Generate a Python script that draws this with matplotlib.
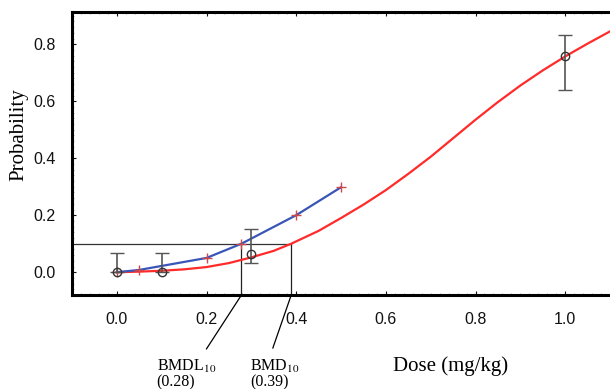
import matplotlib.pyplot as plt
import numpy as np

plt.rcParams['font.family'] = ['Liberation Sans', 'DejaVu Sans']
plt.rcParams['mathtext.fontset'] = 'stix'

# observed data with error bars
obs_dose = [0.0, 0.1, 0.3, 1.0]
obs_p = [0.0, 0.0, 0.064, 0.757]
err_lo = [0.0, 0.0, 0.030, 0.119]
err_hi = [0.069, 0.069, 0.089, 0.076]

# fitted model (red)
fit_dose = [0, 0.05, 0.1, 0.15, 0.2, 0.25, 0.3, 0.35, 0.389, 0.45, 0.5, 0.55,
            0.6, 0.65, 0.7, 0.75, 0.8, 0.85, 0.9, 0.95, 1.0, 1.05, 1.1]
fit_p = [0, 0.002, 0.005, 0.010, 0.018, 0.032, 0.052, 0.075, 0.1, 0.145, 0.19,
         0.237, 0.288, 0.345, 0.405, 0.47, 0.535, 0.597, 0.655, 0.708, 0.757,
         0.802, 0.845]

# lower bound curve (blue) with markers
bl_dose = [0.0, 0.05, 0.2, 0.278, 0.4, 0.5]
bl_p = [0.0, 0.008, 0.05, 0.1, 0.2, 0.298]

bmr = 0.1
bmdl = 0.278
bmd = 0.389

fig = plt.figure(figsize=(6.1, 3.89), dpi=100)
ax = fig.add_axes([72/610, 1-295/389, 1-72/610, 283/389])
ax.set_xlim(-0.1, 1.093)
ax.set_ylim(-0.08, 0.913)

ax.plot(fit_dose, fit_p, color='#ff2a2a', lw=1.6, zorder=3)
ax.plot(bl_dose, bl_p, color='#3a55b8', lw=1.6, zorder=4)
ax.plot(bl_dose, bl_p, ls='none', marker='+', ms=7, mew=1.0, color='#d04848', zorder=5)

ax.errorbar(obs_dose, obs_p, yerr=[err_lo, err_hi], fmt='o', ms=6,
            mfc='none', mec='#333333', mew=1.0, ecolor='#555555',
            elinewidth=1.2, capsize=5, capthick=1.2, zorder=6)

# BMD lines
ax.plot([-0.1, bmd], [bmr, bmr], color='#333333', lw=0.9, zorder=2)
ax.plot([bmdl, bmdl], [-0.08, bmr], color='#222222', lw=0.9, zorder=2)
ax.plot([bmd, bmd], [-0.08, bmr], color='#222222', lw=0.9, zorder=2)

# leader lines outside axes
ax.plot([bmdl, 0.2], [-0.08, -0.269], color='black', lw=0.9, clip_on=False)
ax.plot([bmd, 0.348], [-0.08, -0.266], color='black', lw=0.9, clip_on=False)

ax.text(0.089, -0.299, 'BMDL$_{10}$\n(0.28)', family='Liberation Serif',
        fontsize=11.5, ha='left', va='top', linespacing=1.0)
ax.text(0.297, -0.299, 'BMD$_{10}$\n(0.39)', family='Liberation Serif',
        fontsize=11.5, ha='left', va='top', linespacing=1.0)

ax.text(0.704, -0.251, 'Dose (mg/kg)', transform=ax.transAxes,
        family='Liberation Serif', fontsize=15, ha='center', va='center')
ax.text(-0.0985, 0.565, 'Probability', transform=ax.transAxes, rotation=90,
        family='Liberation Serif', fontsize=15, ha='center', va='center')

ax.set_xticks([0.0, 0.2, 0.4, 0.6, 0.8, 1.0])
ax.set_xticklabels(['0.0', '0.2', '0.4', '0.6', '0.8', '1.0'])
ax.set_yticks([0.0, 0.2, 0.4, 0.6, 0.8])
ax.set_yticklabels(['0.0', '0.2', '0.4', '0.6', '0.8'])
ax.set_xticks(np.arange(-0.1, 1.1, 0.02), minor=True)
ax.set_yticks(np.arange(-0.08, 0.92, 0.02), minor=True)

ax.tick_params(which='major', direction='in', length=3, width=0.8,
               labelsize=11.5, top=True, pad=12, colors='#111111')
ax.tick_params(which='minor', direction='in', length=1.5, width=0.6,
               top=True, color='#999999')
ax.tick_params(axis='y', which='both', right=False)

for s in ['left', 'bottom', 'top']:
    ax.spines[s].set_linewidth(2.2)
ax.spines['right'].set_visible(False)

fig.savefig('out.png', dpi=100)
